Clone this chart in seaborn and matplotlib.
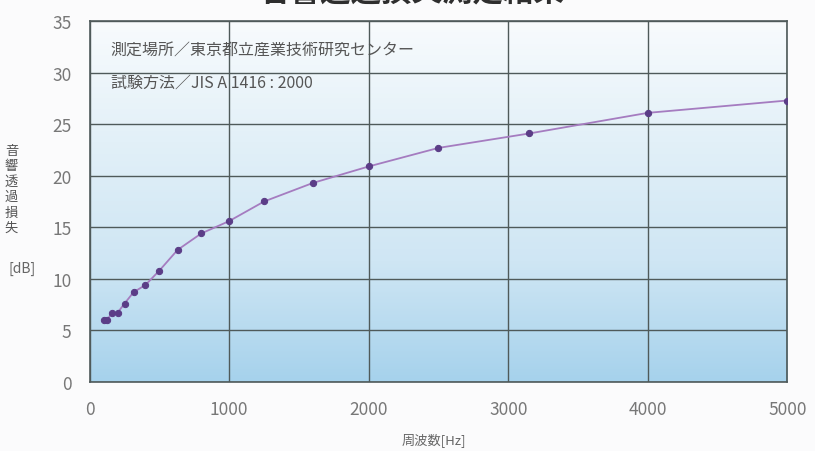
import numpy as np
import pandas as pd
import matplotlib
matplotlib.use("Agg")
import matplotlib.pyplot as plt
from matplotlib.colors import LinearSegmentedColormap
import seaborn as sns

# 1/3 octave band centre frequencies and measured transmission loss
freq_hz = [100, 125, 160, 200, 250, 315, 400, 500, 630, 800, 1000,
           1250, 1600, 2000, 2500, 3150, 4000, 5000]
loss_db = [6.0, 6.0, 6.7, 6.7, 7.6, 8.7, 9.4, 10.8, 12.8, 14.4, 15.6,
           17.5, 19.3, 20.9, 22.7, 24.1, 26.1, 27.3]

x_ticks = [0, 1000, 2000, 3000, 4000, 5000]
y_ticks = [0, 5, 10, 15, 20, 25, 30, 35]

title = "音響透過損失測定結果"
note_place = "測定場所／東京都立産業技術研究センター"
note_method = "試験方法／JIS A 1416 : 2000"
ylabel_chars = "音響透過損失"
xlabel = "周波数[Hz]"

sns.set_style("white")
plt.rcParams['font.family'] = ['Noto Sans CJK JP', 'DejaVu Sans']

df = pd.DataFrame({"freq": freq_hz, "loss": loss_db})

fig = plt.figure(figsize=(8.15, 4.52), dpi=100)
fig.patch.set_facecolor("#fbfbfc")
ax = fig.add_axes([0.110, 0.153, 0.856, 0.798])

# soft white-to-blue gradient behind the plot
cmap = LinearSegmentedColormap.from_list("bg", ["#f8fbfd", "#e2f0f8", "#cfe6f4", "#a6d2ec"])
grad = np.linspace(0, 1, 256).reshape(-1, 1)
ax.imshow(grad, extent=[0, 5000, 0, 35], origin="upper", aspect="auto",
          cmap=cmap, zorder=0)

sns.lineplot(data=df, x="freq", y="loss", ax=ax, color="#a57cc0", lw=1.3,
             marker="o", markersize=4.5, markerfacecolor="#5b3d87",
             markeredgecolor="#5b3d87", zorder=3)

ax.set_xlim(0, 5000)
ax.set_ylim(0, 35)
ax.set_xticks(x_ticks)
ax.set_yticks(y_ticks)
ax.grid(True, color="#4f5a5a", lw=1.0, zorder=1)
ax.set_axisbelow(False)
for sp in ax.spines.values():
    sp.set_color("#4f5a5a")
    sp.set_linewidth(1.2)
ax.tick_params(axis="both", length=0, labelsize=12.5, labelcolor="#777777",
               pad=13)
ax.set_xlabel("")
ax.set_ylabel("")

ax.text(150, 32.2, note_place, fontsize=11.5, color="#555555", va="center")
ax.text(150, 29.1, note_method, fontsize=11.5, color="#555555", va="center")

# title sits mostly above the visible area, like the cropped scan
fig.text(0.506, 1.018, title, fontsize=22, fontweight="bold", color="#2e2e2e",
         ha="center", va="center")

fig.text(0.532, 0.027, xlabel, fontsize=9.5, color="#666666", ha="center",
         va="center")
fig.text(0.014, 0.58, "\n".join(ylabel_chars), fontsize=9.5, color="#555555",
         ha="center", va="center", linespacing=1.25)
fig.text(0.027, 0.405, "[dB]", fontsize=10, color="#666666", ha="center",
         va="center")

fig.savefig("out.png", dpi=100)
